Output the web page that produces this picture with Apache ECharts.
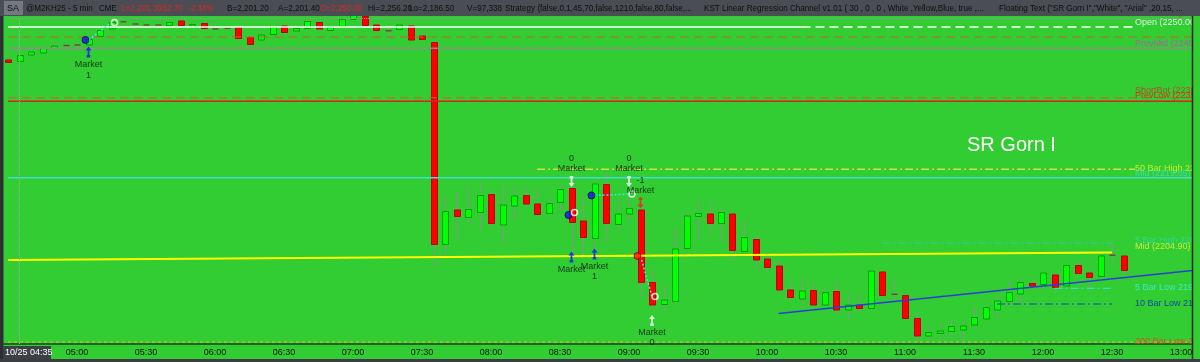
<!DOCTYPE html>
<html><head><meta charset="utf-8">
<script src="https://cdn.jsdelivr.net/npm/echarts@6/dist/echarts.min.js"></script>
<style>html,body{margin:0;padding:0;background:#32cd32;}#c{width:1200px;height:362px;}</style>
</head><body><div id="c"></div>
<script>
// ---------- DATA ----------
const times = ['04:30','04:35','04:40','04:45','04:50','04:55',
'05:00','05:05','05:10','05:15','05:20','05:25','05:30','05:35','05:40','05:45','05:50','05:55',
'06:00','06:05','06:10','06:15','06:20','06:25','06:30','06:35','06:40','06:45','06:50','06:55',
'07:00','07:05','07:10','07:15','07:20','07:25','07:30','07:35','07:40','07:45','07:50','07:55',
'08:00','08:05','08:10','08:15','08:20','08:25','08:30','08:35','08:40','08:45','08:50','08:55',
'09:00','09:05','09:10','09:15','09:20','09:25','09:30','09:35','09:40','09:45','09:50','09:55',
'10:00','10:05','10:10','10:15','10:20','10:25','10:30','10:35','10:40','10:45','10:50','10:55',
'11:00','11:05','11:10','11:15','11:20','11:25','11:30','11:35','11:40','11:45','11:50','11:55',
'12:00','12:05','12:10','12:15','12:20','12:25','12:30','12:35','12:40','12:45','12:50','12:55',
'13:00','13:05'];

const open = [2243.4,2243.1,2244.4,2244.8,2245.7,2246.3,2246.4,2246.4,2248.1,2249.6,
2251.0,2250.6,2250.5,2250.4,2250.3,2251.2,2250.2,2250.7,2249.6,2249.8,
2249.9,2247.9,2247.4,2248.5,2250.2,2249.2,2249.7,2250.9,2249.3,2250.1,
2251.5,2252.1,2250.4,2249.3,2249.5,2250.2,2248.2,2246.9,2206.5,2213.4,
2211.9,2212.9,2216.5,2210.4,2214.2,2216.3,2214.6,2212.7,2214.9,2217.7,
2211.2,2207.7,2218.5,2210.5,2212.6,2213.4,2198.9,2194.5,2195.1,2205.7,
2212.1,2212.6,2210.7,2212.6,2205.1,2207.5,2203.6,2202.2,2197.4,2195.6,
2197.3,2194.4,2197.1,2193.4,2194.4,2193.7,2201.0,2196.6,2196.3,2191.7,
2188.2,2188.7,2189.1,2189.4,2190.4,2191.6,2193.4,2195.1,2196.6,2198.7,
2198.5,2200.4,2198.2,2202.3,2200.8,2200.1,2204.4,2204.2];

const close = [2242.9,2244.3,2245.0,2245.7,2246.2,2246.3,2246.4,2247.5,2249.3,2250.9,
2251.1,2250.6,2250.3,2250.4,2250.9,2250.3,2250.5,2249.7,2249.6,2249.7,
2247.7,2246.5,2248.4,2249.9,2248.9,2249.7,2251.1,2249.6,2250.1,2251.5,
2252.4,2250.3,2249.3,2249.2,2250.4,2247.4,2247.5,2206.5,2213.1,2212.1,
2213.5,2216.3,2210.7,2214.4,2216.2,2214.6,2212.5,2214.7,2217.5,2210.9,
2207.9,2218.6,2210.7,2212.6,2213.7,2198.9,2194.4,2195.4,2205.6,2212.2,
2212.7,2210.7,2212.9,2205.3,2207.9,2203.4,2201.9,2197.4,2195.9,2197.2,
2194.4,2196.9,2193.4,2194.4,2193.7,2201.2,2196.3,2196.5,2191.7,2188.2,
2188.9,2189.2,2190.1,2190.2,2191.9,2193.9,2195.2,2196.9,2198.9,2198.2,
2200.8,2197.9,2202.3,2200.7,2199.9,2204.2,2204.3,2201.3];

const high = [2243.8,2244.6,2245.4,2246.0,2246.8,2246.7,2246.9,2247.8,2249.4,2251.2,
2251.3,2251.0,2250.6,2250.7,2251.0,2251.4,2250.8,2251.0,2250.8,2250.2,
2250.2,2248.4,2248.8,2250.0,2250.4,2250.0,2251.3,2251.0,2250.2,2251.7,
2252.6,2252.4,2250.8,2250.4,2250.6,2250.6,2249.4,2247.2,2216.1,2217.0,
2218.1,2218.8,2217.4,2218.1,2218.2,2218.0,2217.8,2215.6,2218.4,2220.1,
2216.1,2218.9,2221.1,2215.4,2216.8,2214.1,2201.4,2198.1,2209.9,2212.8,
2215.4,2215.1,2213.7,2212.8,2211.4,2208.1,2204.4,2203.1,2199.1,2199.7,
2199.1,2197.7,2199.4,2196.7,2196.4,2201.4,2201.1,2199.5,2196.4,2193.1,
2190.4,2190.7,2191.4,2191.1,2194.1,2194.1,2196.1,2199.4,2199.7,2199.4,
2201.1,2201.1,2202.4,2203.2,2201.4,2204.5,2206.7,2204.4];

const low = [2242.6,2243.0,2244.2,2244.6,2245.6,2245.4,2245.1,2246.3,2248.0,2249.5,
2250.4,2250.0,2250.0,2250.2,2250.2,2250.1,2250.0,2249.6,2249.4,2249.4,
2247.1,2246.4,2247.2,2248.4,2248.7,2249.0,2249.6,2249.4,2249.0,2250.0,
2251.4,2250.2,2249.1,2247.4,2249.4,2247.0,2247.4,2202.2,2204.1,2207.8,
2210.4,2209.4,2210.1,2206.7,2211.3,2214.0,2212.1,2212.0,2213.1,2204.7,
2204.4,2205.4,2206.7,2209.1,2211.4,2195.7,2193.4,2193.1,2194.7,2205.4,
2207.7,2208.7,2207.1,2203.4,2204.4,2201.7,2201.0,2196.7,2195.4,2194.1,
2194.1,2194.1,2192.4,2191.4,2192.7,2193.4,2195.7,2195.4,2191.4,2187.1,
2187.5,2187.4,2187.7,2186.8,2189.7,2191.4,2191.7,2194.4,2194.7,2197.4,
2197.9,2197.3,2197.7,2200.4,2197.7,2199.7,2203.1,2200.2];

// horizontal study levels (value, start time, end time)
const levelValue = [2251.7, 2250.0, 2250.0, 2248.0, 2245.75, 2235.85, 2235.15, 2221.55, 2219.85, 2206.75, 2197.75, 2194.6, 2187.0];
const levelStart = ['04:30','04:30','10:15','04:30','04:30','04:30','04:30','08:20','04:30','10:50','12:05','11:40','04:30'];
const levelEnd   = ['13:05','10:15','12:40','13:05','13:05','13:05','13:05','12:40','13:05','12:30','12:30','12:30','13:05'];

// sloped study lines
const midLine = [['04:30', 2203.4], ['12:30', 2204.9]];
const regLine = [['10:05', 2192.7], ['13:05', 2201.3]];

// level captions at right
const capText = ['200 Bar High 2256.20','Open (2250.00)','PrevMid (2245.75)','ShortBot (2236.00)','PrevLow (2235.25)',
  '50 Bar High 2222.00','Mid (2219.85)','5 Bar High 2206.75','Mid (2204.90)','5 Bar Low 2197.75','10 Bar Low 2194.50','200 Bar Low 2186.50'];
const capPrice = [2252.8, 2250.9, 2246.7, 2237.3, 2236.3, 2221.6, 2220.6, 2207.2, 2206.1, 2197.9, 2194.7, 2187.0];

// trades
const entryBlue = [['05:05', 2247.4], ['08:35', 2212.4], ['08:45', 2216.3]];
const entryRed = [['09:05', 2204.2]];
const exitWhite = [['05:15', 2250.9], ['08:35', 2212.9], ['09:00', 2216.6], ['09:10', 2196.1]];
const tradeLinks = [[['05:05', 2247.4], ['05:15', 2250.9]], [['08:45', 2216.3], ['09:00', 2216.6]], [['09:05', 2204.2], ['09:10', 2196.1]]];
const arrowBlueUp = [['05:05', 2245.0], ['08:35', 2204.0], ['08:45', 2204.6]];
const arrowWhiteDown = [['08:35', 2219.1], ['09:00', 2219.1]];
const arrowRedDown = [['09:05', 2214.8]];
const arrowWhiteUp = [['09:10', 2191.3]];
const tradeText  = ['Market','1','0','Market','Market','Market','1','0','Market','-1','Market','Market','0'];
const tradeTime  = ['05:05','05:05','08:35','08:35','08:35','08:45','08:45','09:00','09:00','09:05','09:05','09:10','09:10'];
const tradePrice = [2242.4, 2240.2, 2223.7, 2221.7, 2201.5, 2202.1, 2200.1, 2223.7, 2221.6, 2219.3, 2217.3, 2188.9, 2186.8];

// status line texts
const headerText = ['@M2KH25 - 5 min','CME','L=2,201.30','-52.70','-2.34%','B=2,201.20','A=2,201.40','O=2,250.00',
  'Hi=2,256.20','Lo=2,186.50','V=97,338','Strategy (false,0,1,45,70,false,1210,false,80,false,...',
  'KST Linear Regression Channel v1.01 ( 30 , 0 , 0 , White ,Yellow,Blue, true ,...',
  'Floating Text ("SR Gorn I","White", "Arial" ,20,15, ...'];

// ---------- STYLES ----------
const GREEN = '#32cd32';
const FONT = '"Liberation Sans", Arial, sans-serif';
const headerX = [26, 99, 121, 160, 188, 227, 278, 320, 368, 409, 467, 505, 704, 999];
const headerRed = [false,false,true,true,true,false,false,true,false,false,false,false,false,false];
const levelStyle = [
  {color:'#a08fb0', type:'dotted', width:1},
  {color:'#ffffff', type:'solid', width:1.5},
  {color:'#ffffff', type:[9,5], width:1.5},
  {color:'#c4652e', type:[9,5], width:1},
  {color:'#8d8d8d', type:'solid', width:1.5},
  {color:'#c4652e', type:[9,5], width:1},
  {color:'#e02020', type:'solid', width:1.5},
  {color:'#c8e040', type:[8,3,2,3], width:1.5},
  {color:'#40e0d0', type:'solid', width:1.5},
  {color:'#30c8a8', type:[8,3,2,3], width:1.2},
  {color:'#40e0e0', type:[8,3,2,3], width:1.2},
  {color:'#2040c0', type:[8,3,2,3], width:1.2},
  {color:'#c0b048', type:[3,3], width:1.5}
];
const capColor = ['#ff2020','#ffffff','#d040d0','#e02828','#ff1010','#f0f020','#40e0d0','#30d8b0','#f0f040','#40f0f0','#1020c0','#ff3010'];

const ARROW = 'path://M5,0L10,6L6.5,6L6.5,13L8,13L8,17L2,17L2,13L3.5,13L3.5,6L0,6Z';

const candleData = open.map((o, i) => [i, o, close[i], low[i], high[i]]);

function renderCandle(params, api) {
  const i = api.value(0);
  const o = api.value(1), c = api.value(2), l = api.value(3), h = api.value(4);
  const po = api.coord([i, o]), pc = api.coord([i, c]);
  const pl = api.coord([i, l]), ph = api.coord([i, h]);
  const bw = Math.round(api.size([1, 0])[0] * 0.52);
  const x = Math.round(po[0]) + 0.5;
  const top = Math.min(po[1], pc[1]), bot = Math.max(po[1], pc[1]);
  const up = c > o;
  const kids = [{type:'line', shape:{x1:x, y1:ph[1], x2:x, y2:pl[1]}, style:{stroke:'#8a948a', lineWidth:1}}];
  if (bot - top < 1.2) {
    kids.push({type:'line', shape:{x1:x - bw/2, y1:(top+bot)/2, x2:x + bw/2, y2:(top+bot)/2}, style:{stroke:'#6a5038', lineWidth:1.5}});
  } else {
    kids.push({type:'rect', shape:{x:x - bw/2, y:top, width:bw, height:bot-top},
      style:{fill: up ? '#00ff00' : '#ff0000', stroke: up ? '#00a000' : '#c00000', lineWidth:1}});
  }
  return {type:'group', children:kids};
}

const labelInterval = (idx, val) => idx > 0 && (val.endsWith(':00') || val.endsWith(':30'));

const series = [];
series.push({type:'custom', name:'bars', renderItem:renderCandle, data:candleData, encode:{x:0, y:[1,2,3,4]}, z:3,
  markLine:{silent:true, symbol:'none', label:{show:false}, data:[{xAxis:'04:35'}], lineStyle:{color:'#a8a8a8', type:'dotted', width:1}}});

levelValue.forEach((v, k) => {
  series.push({type:'line', data:[[levelStart[k], v], [levelEnd[k], v]], symbol:'none', silent:true, z:4,
    lineStyle:levelStyle[k]});
});
series.push({type:'line', data:midLine, symbol:'none', silent:true, z:4, lineStyle:{color:'#ffff00', width:2}});
series.push({type:'line', data:regLine, symbol:'none', silent:true, z:4, lineStyle:{color:'#2c3ed8', width:1.5}});

tradeLinks.forEach(seg => {
  series.push({type:'line', data:seg, symbol:'none', silent:true, z:5, lineStyle:{color:'#40e8e8', type:[2,2], width:1.5}});
});

series.push({type:'scatter', data:entryBlue, symbol:'circle', symbolSize:7, symbolOffset:[-3,0], z:6,
  itemStyle:{color:'#1414e6', borderColor:'#000070', borderWidth:1}});
series.push({type:'scatter', data:entryRed, symbol:'circle', symbolSize:7, symbolOffset:[-3,0], z:6,
  itemStyle:{color:'#ff1010', borderColor:'#900000', borderWidth:1}});
series.push({type:'scatter', data:exitWhite, symbol:'circle', symbolSize:6, symbolOffset:[3,0], z:6,
  itemStyle:{color:'rgba(0,0,0,0)', borderColor:'#ffffff', borderWidth:1.6}});
series.push({type:'scatter', data:arrowBlueUp, symbol:ARROW, symbolSize:[6,11], z:6, itemStyle:{color:'#1414ff'}});
series.push({type:'scatter', data:arrowWhiteDown, symbol:ARROW, symbolRotate:180, symbolSize:[6,11], z:6, itemStyle:{color:'#ffffff'}});
series.push({type:'scatter', data:arrowRedDown, symbol:ARROW, symbolRotate:180, symbolSize:[6,11], z:6, itemStyle:{color:'#ff1a1a'}});
series.push({type:'scatter', data:arrowWhiteUp, symbol:ARROW, symbolSize:[6,11], z:6, itemStyle:{color:'#ffffff'}});

series.push({type:'scatter', symbolSize:0, z:7, silent:true, clip:false,
  data: tradeText.map((t, k) => ({name:t, value:[tradeTime[k], tradePrice[k]]})),
  label:{show:true, position:'inside', formatter:'{b}', color:'#101010', fontSize:9, fontFamily:FONT}});

series.push({type:'scatter', symbolSize:0, z:7, silent:true, clip:false,
  data: capText.map((t, k) => ({name:t, value:['12:40', capPrice[k]], label:{color:capColor[k]}})),
  label:{show:true, position:'right', distance:0, formatter:'{b}', fontSize:9, fontFamily:FONT}});

const graphic = [
  {type:'rect', x:1193, y:16, shape:{width:7, height:343}, style:{fill:GREEN}, z:99},
  {type:'line', shape:{x1:1192.5, y1:16, x2:1192.5, y2:359}, style:{stroke:'#1b2a1b', lineWidth:1.5}, z:100},
  {type:'rect', x:0, y:0, shape:{width:1200, height:16}, style:{fill:'#4a4e54'}, z:100},
  {type:'rect', x:4, y:1, shape:{width:19, height:14}, style:{fill:'#74797f'}, z:101},
  {type:'text', x:7, y:8.5, style:{text:'SA', fill:'#0e0e0e', font:'9px ' + FONT, verticalAlign:'middle'}, z:102},
  {type:'rect', x:0, y:16, shape:{width:3.5, height:346}, style:{fill:'#2c3035'}, z:100},
  {type:'rect', x:0, y:359, shape:{width:1200, height:3}, style:{fill:'#3a3e43'}, z:100},
  {type:'rect', x:3, y:346, shape:{width:48, height:13}, style:{fill:'#3c4147'}, z:101},
  {type:'text', x:5, y:352.5, style:{text:'10/25 04:35', fill:'#ffffff', font:'9px ' + FONT, verticalAlign:'middle'}, z:102},
  {type:'text', x:967, y:145, style:{text:'SR Gorn I', fill:'#ffffff', font:'20px ' + FONT, verticalAlign:'middle'}, z:50}
];
headerText.forEach((t, k) => graphic.push({type:'text', x:headerX[k], y:8.5, scaleX:0.9,
  style:{text:t, fill: headerRed[k] ? '#e02424' : '#0e0e0e', font:'9px ' + FONT, verticalAlign:'middle'}, z:102}));

const chart = echarts.init(document.getElementById('c'), null, {renderer:'canvas'});
chart.setOption({
  animation:false,
  backgroundColor:GREEN,
  grid:{left:2.25, right:1.75, top:18, bottom:18, containLabel:false},
  xAxis:{type:'category', data:times, boundaryGap:true,
    axisLine:{lineStyle:{color:'#1b6b1b', width:2}},
    axisTick:{alignWithLabel:true, interval:labelInterval, length:3, lineStyle:{color:'#0e3e0e'}},
    axisLabel:{interval:labelInterval, color:'#111111', fontSize:9, margin:4, fontFamily:FONT},
    splitLine:{show:false}},
  yAxis:{type:'value', min:2186.6, max:2251.8, show:false, splitLine:{show:false}},
  series:series,
  graphic:graphic
});
</script></body></html>
